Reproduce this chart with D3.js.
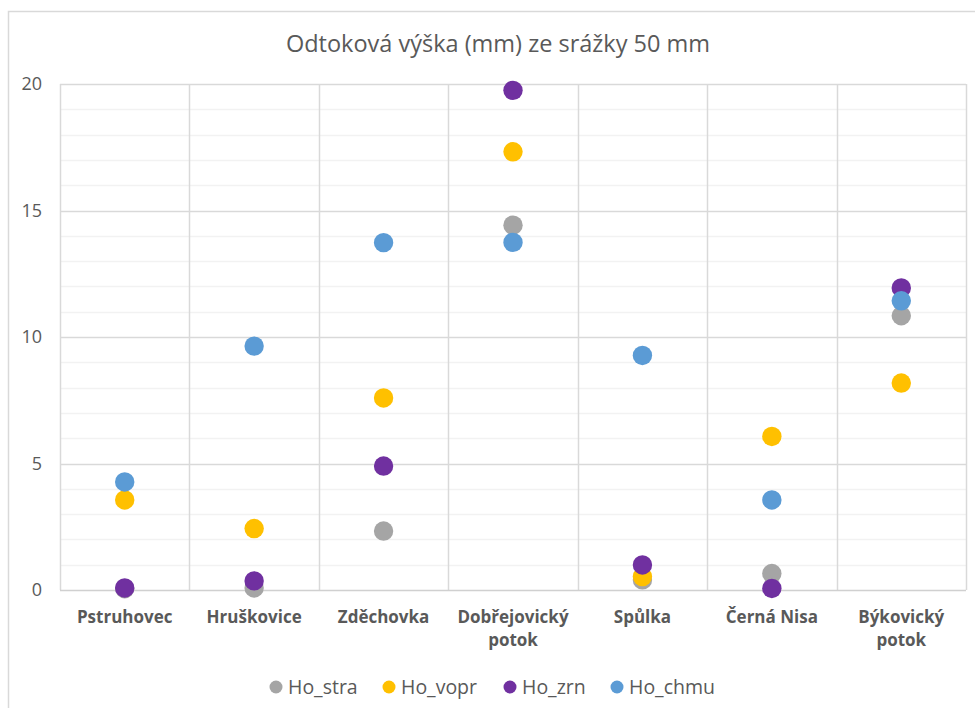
<!DOCTYPE html>
<html>
<head>
<meta charset="utf-8">
<script src="https://cdn.jsdelivr.net/npm/d3@7"></script>
<style>
  html, body { margin: 0; padding: 0; background: #fff; }
  svg { display: block; font-family: "Open Sans", Lato, sans-serif; }
</style>
</head>
<body>
<svg id="chart" width="975" height="708"></svg>
<script>
// Povodí (kategorie na ose x); "\n" značí zalomení popisku
const categories = ["Pstruhovec", "Hruškovice", "Zděchovka", "Dobřejovický\npotok", "Spůlka", "Černá Nisa", "Býkovický\npotok"];

// Odtoková výška [mm] podle jednotlivých metod
const hoStra = [0.05, 0.08, 2.33, 14.42, 0.40, 0.65, 10.84];
const hoVopr = [3.56, 2.43, 7.59, 17.32, 0.53, 6.07, 8.18];
const hoZrn  = [0.08, 0.36, 4.90, 19.75, 0.99, 0.06, 11.94];
const hoChmu = [4.27, 9.64, 13.73, 13.74, 9.27, 3.56, 11.43];

const seriesNames = ["Ho_stra", "Ho_vopr", "Ho_zrn", "Ho_chmu"];
const seriesValues = [hoStra, hoVopr, hoZrn, hoChmu];
const seriesColors = ["#a5a5a5", "#ffc000", "#7030a0", "#5b9bd5"];

const yTicks = [0, 5, 10, 15, 20];
const title = "Odtoková výška (mm) ze srážky 50 mm";

const svg = d3.select("#chart");
const W = 975, H = 708;
const plot = { left: 60, right: 966, top: 84, bottom: 590 };

// Rámeček grafu
svg.append("rect")
  .attr("x", 8.5).attr("y", 11.5)
  .attr("width", W + 10).attr("height", H + 10)
  .attr("fill", "#fff").attr("stroke", "#d9d9d9").attr("stroke-width", 1.5);

const x = d3.scaleBand().domain(categories).range([plot.left, plot.right]).padding(0);
const y = d3.scaleLinear().domain([0, 20]).range([plot.bottom, plot.top]);

// Vedlejší mřížka po 1 mm
const minor = d3.range(1, 20).filter(v => v % 5 !== 0);
svg.append("g").selectAll("line").data(minor).join("line")
  .attr("x1", plot.left).attr("x2", plot.right)
  .attr("y1", d => Math.round(y(d)) + 0.5).attr("y2", d => Math.round(y(d)) + 0.5)
  .attr("stroke", "#f2f2f2").attr("stroke-width", 1.5);

// Hlavní mřížka
svg.append("g").selectAll("line").data(yTicks.filter(v => v > 0)).join("line")
  .attr("x1", plot.left).attr("x2", plot.right)
  .attr("y1", d => Math.round(y(d)) + 0.5).attr("y2", d => Math.round(y(d)) + 0.5)
  .attr("stroke", "#d9d9d9").attr("stroke-width", 1.5);

// Svislé dělicí čáry mezi kategoriemi
const bounds = categories.map(c => x(c)).concat([plot.right]);
svg.append("g").selectAll("line").data(bounds).join("line")
  .attr("x1", d => Math.round(d) + 0.5).attr("x2", d => Math.round(d) + 0.5)
  .attr("y1", plot.top).attr("y2", plot.bottom)
  .attr("stroke", "#d9d9d9").attr("stroke-width", 1.5);

// Osa x
svg.append("line")
  .attr("x1", plot.left).attr("x2", plot.right)
  .attr("y1", plot.bottom + 0.5).attr("y2", plot.bottom + 0.5)
  .attr("stroke", "#d0d0d0").attr("stroke-width", 1.5);

// Popisky osy y
const yAxis = d3.axisLeft(y).tickValues(yTicks).tickSize(0).tickPadding(18);
const gy = svg.append("g").attr("transform", `translate(${plot.left},0)`).call(yAxis);
gy.select(".domain").remove();
gy.selectAll("text")
  .attr("fill", "#595959").attr("font-size", 18)
  .attr("font-family", "'Open Sans', Lato, sans-serif");

// Popisky kategorií
const gx = svg.append("g");
categories.forEach(c => {
  const lines = c.split("\n");
  const t = gx.append("text")
    .attr("x", x(c) + x.bandwidth() / 2)
    .attr("y", 623)
    .attr("text-anchor", "middle")
    .attr("fill", "#595959")
    .attr("font-size", 17)
    .attr("font-weight", "bold");
  lines.forEach((w, i) => {
    t.append("tspan")
      .attr("x", x(c) + x.bandwidth() / 2)
      .attr("dy", i === 0 ? 0 : 23)
      .text(w);
  });
});

// Body řad
seriesValues.forEach((vals, si) => {
  svg.append("g").selectAll("circle").data(vals).join("circle")
    .attr("cx", (d, i) => x(categories[i]) + x.bandwidth() / 2)
    .attr("cy", d => y(d))
    .attr("r", 9.7)
    .attr("fill", seriesColors[si]);
});

// Nadpis
svg.append("text")
  .attr("x", 498).attr("y", 52)
  .attr("text-anchor", "middle")
  .attr("fill", "#595959")
  .attr("font-size", 23.5)
  .text(title);

// Legenda
const legendX = [276, 389, 510, 617];
const lg = svg.append("g");
seriesNames.forEach((n, i) => {
  lg.append("circle").attr("cx", legendX[i]).attr("cy", 687).attr("r", 6.5).attr("fill", seriesColors[i]);
  lg.append("text").attr("x", legendX[i] + 12).attr("y", 693.5)
    .attr("fill", "#595959").attr("font-size", 19.5).text(n);
});
</script>
</body>
</html>
